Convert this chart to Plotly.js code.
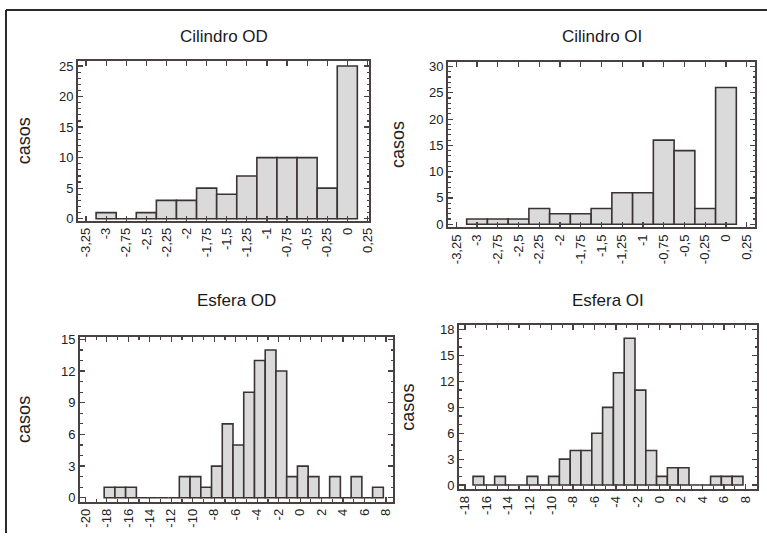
<!DOCTYPE html>
<html>
<head>
<meta charset="utf-8">
<script src="https://cdn.plot.ly/plotly-3.0.1.min.js"></script>
<style>html,body{margin:0;padding:0;background:#fff;}#chart{width:767px;height:539px;}</style>
</head>
<body>
<div id="chart"></div>
<script>
// ---- data ----
const cilBins = [-3, -2.75, -2.5, -2.25, -2, -1.75, -1.5, -1.25, -1, -0.75, -0.5, -0.25, 0];
const cilindroOD = [1, 0, 1, 3, 3, 5, 4, 7, 10, 10, 10, 5, 25];
const cilindroOI = [1, 1, 1, 3, 2, 2, 3, 6, 6, 16, 14, 3, 26];
const cilTickVals = [-3.25, -3, -2.75, -2.5, -2.25, -2, -1.75, -1.5, -1.25, -1, -0.75, -0.5, -0.25, 0, 0.25];
const cilTickText = ['-3,25', '-3', '-2,75', '-2,5', '-2,25', '-2', '-1,75', '-1,5', '-1,25', '-1', '-0,75', '-0,5', '-0,25', '0', '0,25'];

const esfODBins = [-17.75, -16.75, -15.75, -14.75, -13.75, -12.75, -11.75, -10.75, -9.75, -8.75, -7.75, -6.75, -5.75,
                   -4.75, -3.75, -2.75, -1.75, -0.75, 0.25, 1.25, 2.25, 3.25, 4.25, 5.25, 6.25, 7.25];
const esferaOD = [1, 1, 1, 0, 0, 0, 0, 2, 2, 1, 3, 7, 5, 10, 13, 14, 12, 2, 3, 2, 0, 2, 0, 2, 0, 1];
const esfOIBins = [-16.75, -15.75, -14.75, -13.75, -12.75, -11.75, -10.75, -9.75, -8.75, -7.75, -6.75, -5.75,
                   -4.75, -3.75, -2.75, -1.75, -0.75, 0.25, 1.25, 2.25, 3.25, 4.25, 5.25, 6.25, 7.25];
const esferaOI = [1, 0, 1, 0, 0, 1, 0, 1, 3, 4, 4, 6, 9, 13, 17, 11, 4, 1, 2, 2, 0, 0, 1, 1, 1];
const esfODTickVals = [-20, -18, -16, -14, -12, -10, -8, -6, -4, -2, 0, 2, 4, 6, 8];
const esfODTickText = ['-20', '-18', '-16', '-14', '-12', '-10', '-8', '-6', '-4', '-2', '0', '2', '4', '6', '8'];
const esfOITickVals = [-18, -16, -14, -12, -10, -8, -6, -4, -2, 0, 2, 4, 6, 8];
const esfOITickText = ['-18', '-16', '-14', '-12', '-10', '-8', '-6', '-4', '-2', '0', '2', '4', '6', '8'];

const titles = ['Cilindro OD', 'Cilindro OI', 'Esfera OD', 'Esfera OI'];
const yLabel = 'casos';

// ---- styling ----
const W = 767, H = 539;
const FONT = 'Liberation Sans, Arial, sans-serif';
const lineCol = '#4a4242';
const barFill = '#dadada';
const barLine = '#3b3333';

function bar(x, y, n) {
  return {
    type: 'bar', x: x, y: y,
    xaxis: 'x' + (n === 1 ? '' : n), yaxis: 'y' + (n === 1 ? '' : n),
    marker: {color: barFill, line: {color: barLine, width: 1.6}},
    showlegend: false, hoverinfo: 'x+y'
  };
}

// pixel box -> domain
function dx(a, b) { return [a / W, b / W]; }
function dy(top, bottom) { return [1 - bottom / H, 1 - top / H]; }

function xax(dom, range, vals, text, anchor, minorD) {
  const a = {
    domain: dom, range: range, anchor: anchor,
    tickmode: 'array', tickvals: vals, ticktext: text, tickangle: -90,
    ticks: 'inside', ticklen: 5, tickwidth: 1.2, tickcolor: lineCol,
    showline: true, linecolor: lineCol, linewidth: 2, mirror: 'allticks',
    showgrid: false, zeroline: false,
    tickfont: {family: FONT, size: 13, color: '#222'}
  };
  if (minorD) a.minor = {tickmode: 'linear', tick0: 0, dtick: minorD, ticks: 'inside', ticklen: 2.5, tickcolor: lineCol, showgrid: false};
  return a;
}
function yax(dom, range, dtick, anchor, standoff) {
  return {
    domain: dom, range: range, anchor: anchor,
    tickmode: 'linear', tick0: 0, dtick: dtick,
    ticks: 'inside', ticklen: 5, tickwidth: 1.2, tickcolor: lineCol,
    minor: {tickmode: 'linear', tick0: 0, dtick: 1, ticks: 'inside', ticklen: 2.5, tickcolor: lineCol, showgrid: false},
    showline: true, linecolor: lineCol, linewidth: 2, mirror: 'allticks',
    showgrid: false, zeroline: false,
    tickfont: {family: FONT, size: 13, color: '#222'},
    automargin: true,
    title: {text: yLabel, standoff: standoff, font: {family: FONT, size: 18, color: '#222'}}
  };
}

const data = [
  bar(cilBins, cilindroOD, 1),
  bar(cilBins, cilindroOI, 2),
  bar(esfODBins, esferaOD, 3),
  bar(esfOIBins, esferaOI, 4)
];

const titleY = [32, 32, 302, 302];
const annotations = titles.map((t, i) => ({
  text: t, xref: 'x' + (i === 0 ? '' : i + 1) + ' domain', x: 0.5,
  yref: 'paper', y: 1 - titleY[i] / H, xanchor: 'center', yanchor: 'middle',
  showarrow: false, font: {family: FONT, size: 17, color: '#1a1a1a'}
}));

const layout = {
  width: W, height: H,
  margin: {l: 0, r: 0, t: 0, b: 0},
  paper_bgcolor: '#fff', plot_bgcolor: '#fff',
  bargap: 0,
  showlegend: false,
  xaxis:  xax(dx(78, 369),  [-3.35, 0.27], cilTickVals, cilTickText, 'y', null),
  yaxis:  yax(dy(57, 220),  [-0.3, 25.85], 5, 'x', 24),
  xaxis2: xax(dx(448, 755), [-3.35, 0.35], cilTickVals, cilTickText, 'y2', null),
  yaxis2: yax(dy(58, 227),  [-0.6, 30.9], 5, 'x2', 20),
  xaxis3: xax(dx(80, 393),  [-20.5, 8.65], esfODTickVals, esfODTickText, 'y3', 1),
  yaxis3: yax(dy(339, 507), [-0.37, 15.22], 3, 'x3', 26),
  xaxis4: xax(dx(459, 757), [-18.55, 9.05], esfOITickVals, esfOITickText, 'y4', 1),
  yaxis4: yax(dy(327, 494), [-0.45, 18.5], 3, 'x4', 21),
  annotations: annotations,
  shapes: [
    {type: 'line', xref: 'paper', yref: 'paper', x0: 6 / W, x1: 1, y0: 1 - 5 / H, y1: 1 - 5 / H, line: {color: '#2a2a2a', width: 2}},
    {type: 'line', xref: 'paper', yref: 'paper', x0: 6 / W, x1: 6 / W, y0: 0, y1: 1 - 5 / H, line: {color: '#2a2a2a', width: 2}}
  ]
};

Plotly.newPlot('chart', data, layout, {displayModeBar: false, staticPlot: true});
</script>
</body>
</html>
